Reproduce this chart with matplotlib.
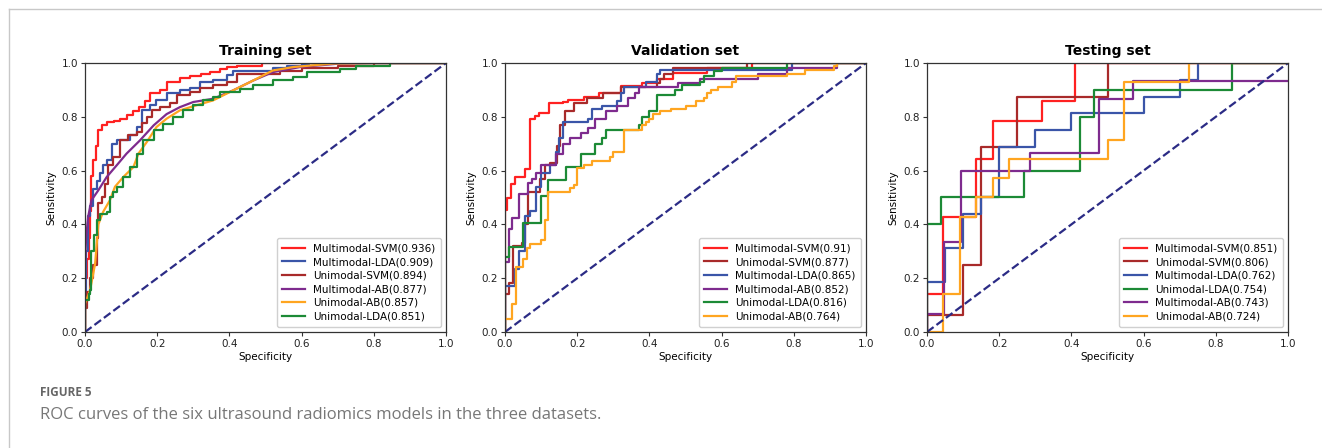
import matplotlib
matplotlib.use('Agg')
import matplotlib.pyplot as plt
from matplotlib.lines import Line2D

# ---- data: ROC curves (x = jump position, y = new level) ----
panel_titles = ['Training set', 'Validation set', 'Testing set']

colors = {
    'Multimodal-SVM': '#ff2121',
    'Multimodal-LDA': '#3a55a8',
    'Unimodal-SVM': '#a82a2a',
    'Multimodal-AB': '#7e2b8e',
    'Unimodal-AB': '#ffa520',
    'Unimodal-LDA': '#1c8a36',
}

# Training set
train_order = ['Multimodal-SVM', 'Multimodal-LDA', 'Unimodal-SVM',
               'Multimodal-AB', 'Unimodal-AB', 'Unimodal-LDA']
train_auc = [0.936, 0.909, 0.894, 0.877, 0.857, 0.851]
train_x = {
    'Multimodal-SVM': [0, 0, 0.005, 0.010, 0.014, 0.018, 0.023, 0.030, 0.037, 0.046, 0.060, 0.080,
                       0.097, 0.115, 0.134, 0.150, 0.165, 0.180, 0.208, 0.226, 0.263, 0.290,
                       0.320, 0.346, 0.374, 0.392, 0.420, 0.490, 1.0],
    'Multimodal-LDA': [0, 0, 0.004, 0.009, 0.014, 0.023, 0.032, 0.041, 0.050, 0.060, 0.074, 0.088,
                       0.125, 0.143, 0.157, 0.180, 0.198, 0.226, 0.263, 0.290, 0.319, 0.355,
                       0.392, 0.410, 0.520, 0.560, 0.600, 0.620, 1.0],
    'Unimodal-SVM': [0, 0, 0.005, 0.014, 0.023, 0.032, 0.037, 0.046, 0.055, 0.065, 0.078, 0.097,
                     0.120, 0.143, 0.157, 0.171, 0.185, 0.208, 0.235, 0.254, 0.290, 0.319,
                     0.355, 0.392, 0.420, 0.540, 0.600, 0.700, 0.800, 1.0],
    'Multimodal-AB': [0, 0, 0.003, 0.009, 0.018, 0.037, 0.060, 0.088, 0.115, 0.152, 0.190, 0.226,
                      0.263, 0.300, 0.355, 0.410, 0.466, 0.520, 0.596, 0.706, 0.800, 1.0],
    'Unimodal-AB': [0, 0, 0.007, 0.014, 0.028, 0.037, 0.050, 0.069, 0.083, 0.106, 0.134, 0.148,
                    0.171, 0.198, 0.226, 0.263, 0.309, 0.355, 0.410, 0.466, 0.520, 0.577,
                    0.688, 0.800, 1.0],
    'Unimodal-LDA': [0, 0, 0.010, 0.014, 0.018, 0.025, 0.032, 0.041, 0.060, 0.069, 0.078, 0.088,
                     0.106, 0.125, 0.143, 0.162, 0.190, 0.217, 0.245, 0.272, 0.300, 0.328,
                     0.355, 0.374, 0.430, 0.466, 0.520, 0.577, 0.614, 0.706, 0.750, 0.845, 1.0],
}
train_y = {
    'Multimodal-SVM': [0, 0.20, 0.27, 0.35, 0.45, 0.58, 0.64, 0.69, 0.75, 0.77, 0.78, 0.785,
                       0.79, 0.807, 0.82, 0.838, 0.86, 0.887, 0.90, 0.93, 0.943, 0.950,
                       0.960, 0.968, 0.978, 0.986, 0.990, 1.0, 1.0],
    'Multimodal-LDA': [0, 0.12, 0.30, 0.43, 0.47, 0.53, 0.56, 0.59, 0.62, 0.64, 0.70, 0.714,
                       0.732, 0.763, 0.825, 0.844, 0.862, 0.887, 0.90, 0.906, 0.93, 0.937,
                       0.955, 0.97, 0.98, 0.99, 0.995, 1.0, 1.0],
    'Unimodal-SVM': [0, 0.09, 0.15, 0.20, 0.25, 0.35, 0.48, 0.50, 0.55, 0.62, 0.65, 0.714,
                     0.732, 0.745, 0.776, 0.80, 0.825, 0.838, 0.85, 0.88, 0.893, 0.906,
                     0.918, 0.93, 0.96, 0.97, 0.98, 0.99, 1.0, 1.0],
    'Multimodal-AB': [0, 0.25, 0.35, 0.43, 0.49, 0.527, 0.576, 0.62, 0.663, 0.712, 0.768, 0.81,
                      0.836, 0.855, 0.867, 0.898, 0.935, 0.966, 0.985, 0.998, 1.0, 1.0],
    'Unimodal-AB': [0, 0.105, 0.13, 0.155, 0.254, 0.40, 0.446, 0.49, 0.54, 0.576, 0.613, 0.663,
                    0.706, 0.762, 0.793, 0.824, 0.843, 0.861, 0.898, 0.935, 0.972, 0.985,
                    0.998, 1.0, 1.0],
    'Unimodal-LDA': [0, 0.118, 0.14, 0.155, 0.30, 0.36, 0.415, 0.44, 0.446, 0.50, 0.52, 0.54,
                     0.576, 0.613, 0.663, 0.712, 0.75, 0.775, 0.80, 0.824, 0.843, 0.861,
                     0.874, 0.892, 0.905, 0.917, 0.935, 0.948, 0.966, 0.978, 0.99, 1.0, 1.0],
}

# Validation set
val_order = ['Multimodal-SVM', 'Unimodal-SVM', 'Multimodal-LDA',
             'Multimodal-AB', 'Unimodal-LDA', 'Unimodal-AB']
val_auc = [0.91, 0.877, 0.865, 0.852, 0.816, 0.764]
val_x = {
    'Multimodal-SVM': [0, 0, 0.005, 0.018, 0.028, 0.055, 0.069, 0.083, 0.095, 0.123, 0.161, 0.175,
                       0.220, 0.260, 0.320, 0.380, 0.420, 0.466, 0.559, 0.683, 1.0],
    'Unimodal-SVM': [0, 0, 0.012, 0.023, 0.046, 0.055, 0.065, 0.097, 0.110, 0.125, 0.143, 0.152,
                     0.166, 0.190, 0.226, 0.272, 0.320, 0.420, 0.430, 0.440, 0.466, 0.670, 1.0],
    'Multimodal-LDA': [0, 0, 0.028, 0.040, 0.055, 0.070, 0.085, 0.100, 0.125, 0.140, 0.150, 0.162,
                       0.230, 0.240, 0.270, 0.310, 0.320, 0.330, 0.390, 0.420, 0.430, 0.794, 1.0],
    'Multimodal-AB': [0, 0, 0.012, 0.020, 0.040, 0.065, 0.075, 0.085, 0.100, 0.140, 0.160, 0.180,
                      0.210, 0.230, 0.250, 0.280, 0.310, 0.340, 0.360, 0.370, 0.480, 0.540,
                      0.700, 0.780, 0.920, 1.0],
    'Unimodal-LDA': [0, 0, 0.010, 0.050, 0.100, 0.120, 0.170, 0.210, 0.250, 0.270, 0.280, 0.370,
                     0.380, 0.400, 0.420, 0.470, 0.490, 0.540, 0.550, 0.580, 0.600, 0.780, 1.0],
    'Unimodal-AB': [0, 0, 0.020, 0.030, 0.050, 0.060, 0.070, 0.100, 0.110, 0.120, 0.180, 0.190,
                    0.200, 0.220, 0.240, 0.290, 0.300, 0.330, 0.380, 0.390, 0.400, 0.410,
                    0.430, 0.460, 0.500, 0.530, 0.550, 0.560, 0.570, 0.590, 0.630, 0.640,
                    0.780, 0.830, 0.910, 0.920, 1.0],
}
val_y = {
    'Multimodal-SVM': [0, 0.454, 0.497, 0.55, 0.577, 0.605, 0.791, 0.803, 0.815, 0.85, 0.856, 0.862,
                       0.875, 0.89, 0.915, 0.925, 0.94, 0.963, 0.983, 1.0, 1.0],
    'Unimodal-SVM': [0, 0.14, 0.182, 0.32, 0.33, 0.40, 0.52, 0.57, 0.62, 0.63, 0.69, 0.77,
                     0.82, 0.85, 0.87, 0.89, 0.91, 0.925, 0.94, 0.96, 0.98, 1.0, 1.0],
    'Multimodal-LDA': [0, 0.17, 0.235, 0.30, 0.43, 0.45, 0.54, 0.59, 0.62, 0.67, 0.72, 0.78,
                       0.79, 0.83, 0.84, 0.86, 0.89, 0.91, 0.93, 0.96, 0.975, 1.0, 1.0],
    'Multimodal-AB': [0, 0.26, 0.382, 0.423, 0.513, 0.553, 0.57, 0.59, 0.62, 0.66, 0.70, 0.72,
                      0.74, 0.76, 0.79, 0.82, 0.84, 0.87, 0.89, 0.91, 0.925, 0.94,
                      0.96, 0.98, 1.0, 1.0],
    'Unimodal-LDA': [0, 0.28, 0.315, 0.404, 0.507, 0.565, 0.614, 0.66, 0.70, 0.72, 0.75, 0.77,
                     0.80, 0.82, 0.88, 0.90, 0.92, 0.93, 0.95, 0.97, 0.98, 1.0, 1.0],
    'Unimodal-AB': [0, 0.05, 0.105, 0.241, 0.272, 0.311, 0.326, 0.342, 0.417, 0.52, 0.534, 0.545,
                    0.61, 0.62, 0.635, 0.65, 0.67, 0.75, 0.77, 0.78, 0.79, 0.81,
                    0.82, 0.83, 0.84, 0.86, 0.87, 0.89, 0.90, 0.91, 0.93, 0.95,
                    0.96, 0.975, 0.99, 1.0, 1.0],
}

# Testing set
test_order = ['Multimodal-SVM', 'Unimodal-SVM', 'Multimodal-LDA',
              'Unimodal-LDA', 'Multimodal-AB', 'Unimodal-AB']
test_auc = [0.851, 0.806, 0.762, 0.754, 0.743, 0.724]
test_x = {
    'Multimodal-SVM': [0, 0, 0.045, 0.136, 0.182, 0.318, 0.409, 1.0],
    'Unimodal-SVM': [0, 0, 0.10, 0.15, 0.25, 0.50, 1.0],
    'Multimodal-LDA': [0, 0, 0.05, 0.10, 0.15, 0.20, 0.30, 0.40, 0.60, 0.70, 0.75, 1.0],
    'Unimodal-LDA': [0, 0, 0.038, 0.27, 0.423, 0.462, 0.846, 1.0],
    'Multimodal-AB': [0, 0, 0.048, 0.095, 0.286, 0.476, 0.571, 1.0],
    'Unimodal-AB': [0, 0.045, 0.091, 0.136, 0.182, 0.227, 0.50, 0.545, 0.727, 1.0],
}
test_y = {
    'Multimodal-SVM': [0, 0.143, 0.429, 0.643, 0.786, 0.857, 1.0, 1.0],
    'Unimodal-SVM': [0, 0.0625, 0.25, 0.6875, 0.875, 1.0, 1.0],
    'Multimodal-LDA': [0, 0.1875, 0.3125, 0.4375, 0.5, 0.6875, 0.75, 0.8125, 0.875, 0.9375, 1.0, 1.0],
    'Unimodal-LDA': [0, 0.4, 0.5, 0.6, 0.8, 0.9, 1.0, 1.0],
    'Multimodal-AB': [0, 0.0667, 0.333, 0.6, 0.667, 0.867, 0.933, 0.933],
    'Unimodal-AB': [0, 0.143, 0.429, 0.5, 0.571, 0.643, 0.714, 0.929, 1.0, 1.0],
}

panels = [
    (train_order, train_auc, train_x, train_y),
    (val_order, val_auc, val_x, val_y),
    (test_order, test_auc, test_x, test_y),
]
smooth = {('Training set', 'Multimodal-AB'), ('Training set', 'Unimodal-AB')}

fig = plt.figure(figsize=(13.22, 4.48), dpi=100)

# outer frame like the journal page
fig.add_artist(Line2D([9 / 1322, 1.0], [1 - 9 / 448, 1 - 9 / 448], color='#c8c8c8', lw=1))
fig.add_artist(Line2D([9 / 1322, 9 / 1322], [0, 1 - 9 / 448], color='#c8c8c8', lw=1))

lefts = [85, 505, 927]
for i, (order, aucs, xs, ys) in enumerate(panels):
    ax = fig.add_axes([lefts[i] / 1322, 1 - 332 / 448, 361 / 1322, 269 / 448])
    title = panel_titles[i]
    for name, auc in zip(order, aucs):
        label = f'{name}({auc})'
        if (title, name) in smooth:
            ax.plot(xs[name], ys[name], color=colors[name], lw=1.6, label=label)
        else:
            ax.step(xs[name], ys[name], where='post', color=colors[name], lw=1.6, label=label)
    ax.plot([0, 1], [0, 1], color='#2b2b85', lw=1.6, ls='--')
    ax.set_xlim(0, 1)
    ax.set_ylim(0, 1)
    ax.set_xticks([0, 0.2, 0.4, 0.6, 0.8, 1.0])
    ax.set_yticks([0, 0.2, 0.4, 0.6, 0.8, 1.0])
    ax.tick_params(labelsize=7.5, length=3, color='#333333', labelcolor='#222222', pad=2)
    for sp in ax.spines.values():
        sp.set_color('#333333')
        sp.set_linewidth(0.9)
    ax.set_title(title, fontsize=10, fontweight='bold', pad=6)
    ax.set_xlabel('Specificity', fontsize=7.5, labelpad=2)
    ax.set_ylabel('Sensitivity', fontsize=7.5, labelpad=4)
    ax.legend(loc='lower right', fontsize=7.5, handlelength=2.2, labelspacing=0.35,
              borderpad=0.5, framealpha=1, edgecolor='#d0d0d0')

fig.text(40 / 1322, 1 - 392 / 448, 'FIGURE 5', fontsize=8.5, color='#666666',
         fontweight='bold', family='Open Sans', va='center')
fig.text(40 / 1322, 1 - 415 / 448,
         'ROC curves of the six ultrasound radiomics models in the three datasets.',
         fontsize=12, color='#777777', family='Open Sans', va='center')

fig.savefig('out.png', dpi=100)
